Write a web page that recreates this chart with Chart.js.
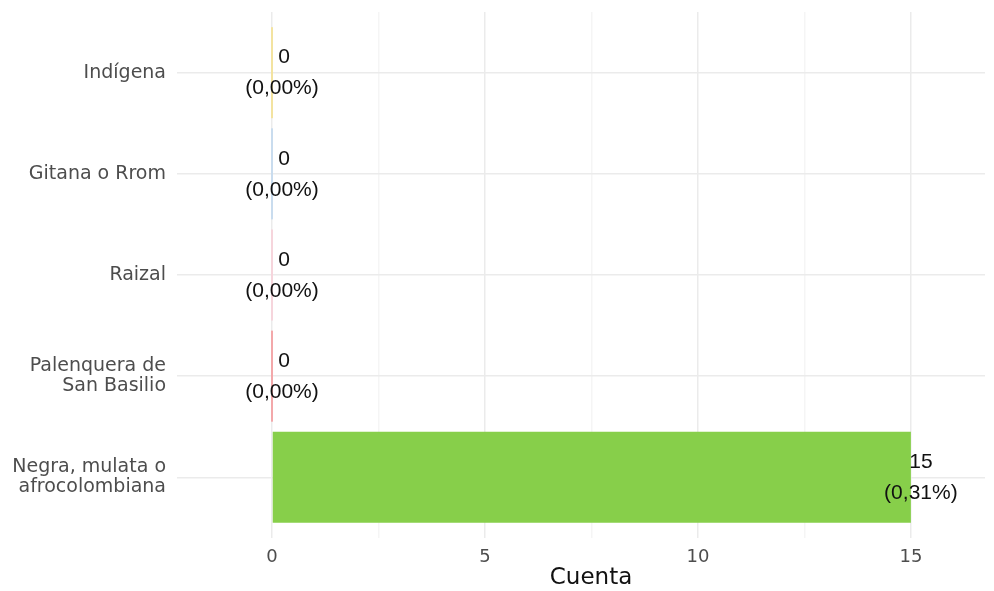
<!DOCTYPE html>
<html>
<head>
<meta charset="utf-8">
<script src="https://cdn.jsdelivr.net/npm/chart.js@4"></script>
<style>
  body { margin: 0; background: #fff; }
</style>
</head>
<body>
<canvas id="myChart" width="994" height="591"></canvas>
<script>
const categories = [
  "Indígena",
  "Gitana o Rrom",
  "Raizal",
  ["Palenquera de", "San Basilio"],
  ["Negra, mulata o", "afrocolombiana"]
];
const counts = [0, 0, 0, 0, 15];
const percents = [0.00, 0.00, 0.00, 0.00, 0.31];
const barColors = ["#f3e3a0", "#c9dcee", "#f6d5dc", "#f3a8aa", "#87cf4a"];
const xTicks = [0, 2.5, 5, 7.5, 10, 12.5, 15];
const xTitle = "Cuenta";

// data labels "n\n(p%)" next to the bar end, plus the x title
const valueLabels = {
  id: "valueLabels",
  afterDatasetsDraw(chart) {
    const ctx = chart.ctx;
    const x = chart.scales.x;
    const y = chart.scales.y;
    ctx.save();
    ctx.fillStyle = "#111";
    ctx.font = "21px 'Liberation Sans', Arial, sans-serif";
    ctx.textAlign = "center";
    ctx.textBaseline = "middle";
    counts.forEach((v, i) => {
      const px = x.getPixelForValue(v) + 10;
      const py = y.getPixelForValue(i);
      ctx.fillText(String(v), px + (v === 0 ? 2 : 0), py - 15);
      ctx.fillText("(" + percents[i].toFixed(2).replace(".", ",") + "%)", px, py + 16);
    });
    ctx.font = "23px 'DejaVu Sans', Verdana, sans-serif";
    ctx.fillText(xTitle, (x.left + x.right) / 2 + 10, 578);
    ctx.restore();
  }
};

const ctx = document.getElementById("myChart").getContext("2d");
const myChart = new Chart(ctx, {
  type: "bar",
  data: {
    datasets: [{
      data: counts.map((v, i) => ({ x: v, y: i })),
      backgroundColor: barColors,
      borderWidth: 0,
      minBarLength: 2,
      categoryPercentage: 0.9,
      barPercentage: 1
    }]
  },
  options: {
    indexAxis: "y",
    responsive: false,
    animation: false,
    layout: { padding: { top: 12, right: 9, left: 0, bottom: 0 } },
    plugins: {
      legend: { display: false },
      tooltip: { enabled: false }
    },
    scales: {
      x: {
        type: "linear",
        min: -2.23,
        max: 16.74,
        afterBuildTicks: (scale) => { scale.ticks = xTicks.map(v => ({ value: v })); },
        afterFit: (scale) => { scale.height = 53; scale.paddingLeft = 0; scale.paddingRight = 0; },
        border: { display: false },
        grid: {
          drawTicks: false,
          color: (c) => (c.tick && c.tick.value % 5 === 0) ? "#ebebeb" : "#f5f5f5",
          lineWidth: 1.5
        },
        ticks: {
          padding: 9,
          color: "#4d4d4d",
          font: { family: "'DejaVu Sans', Verdana, sans-serif", size: 18 },
          callback: (v) => (v % 5 === 0 ? String(v) : "")
        }
      },
      y: {
        type: "linear",
        min: -0.6,
        max: 4.6,
        reverse: true,
        offset: false,
        afterBuildTicks: (scale) => { scale.ticks = categories.map((c, i) => ({ value: i })); },
        afterFit: (scale) => { scale.width = 177; scale.paddingTop = 0; scale.paddingBottom = 0; },
        border: { display: false },
        grid: { drawTicks: false, offset: false, color: "#ebebeb", lineWidth: 1.5 },
        ticks: {
          padding: 11,
          color: "#4d4d4d",
          font: { family: "'DejaVu Sans', Verdana, sans-serif", size: 19, lineHeight: 1.05 },
          callback: (v) => categories[v]
        }
      }
    }
  },
  plugins: [valueLabels]
});
</script>
</body>
</html>
